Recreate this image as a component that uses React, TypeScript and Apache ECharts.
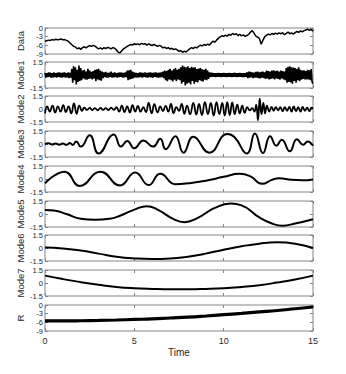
import React, { useEffect, useRef } from "react";
import * as echarts from "echarts";

// ---------- data ----------
const panelNames = ["Data", "Mode1", "Mode2", "Mode3", "Mode4", "Mode5", "Mode6", "Mode7", "R"];
const xTicks = [0, 5, 10, 15];
const wideTicks = [-9, -6, -3, 0];      // Data and R
const modeTicks = [-1.5, 0, 1.5];       // Mode1..Mode7

const dataStep = 0.1;
const dataValues = [
  -4.6, -4.4, -4.2, -4.3, -4.0, -4.2, -3.9, -4.1, -4.0, -3.8,
  -4.1, -4.0, -4.3, -4.6, -5.2, -5.8, -6.3, -6.6, -7.2, -6.9,
  -7.4, -6.8, -6.5, -6.9, -6.4, -6.1, -6.4, -6.0, -6.3, -6.8,
  -7.2, -6.9, -7.3, -6.8, -7.1, -6.7, -6.9, -7.2, -6.8, -7.0,
  -7.6, -8.4, -8.6, -7.9, -7.2, -6.8, -6.4, -6.0, -5.7, -5.9,
  -5.4, -5.7, -5.5, -5.8, -5.3, -5.6, -5.4, -5.9, -5.5, -5.8,
  -6.1, -5.7, -6.0, -6.4, -6.0, -6.3, -6.9, -6.6, -7.1, -6.8,
  -7.3, -7.0, -7.5, -7.2, -7.6, -8.1, -7.8, -8.4, -8.0, -8.3,
  -7.7, -7.2, -6.8, -7.1, -6.6, -6.9, -6.3, -6.0, -6.2, -5.7,
  -6.0, -5.6, -5.9, -5.2, -4.6, -4.9, -4.2, -3.6, -3.1, -2.7,
  -2.9, -2.5, -2.8, -2.2, -2.5, -1.9, -2.3, -2.0, -2.6, -2.2,
  -2.7, -2.4, -2.9, -2.6, -2.2, -1.4, -0.9, -1.8, -2.8, -3.2,
  -3.6, -5.6, -4.2, -3.0, -2.5, -2.1, -2.4, -1.9, -2.2, -1.8,
  -2.1, -1.7, -2.0, -1.6, -2.3, -1.9, -1.4, -2.0, -1.7, -2.1,
  -1.6, -1.2, -1.5, -1.0, -1.3, -0.9, -0.7, -0.4, -0.8, -0.5,
  -1.1,
];

const mode1Step = 0.05;
const mode1Values = [
  0.25, -0.3, 0.2, -0.25, 0.3, -0.2, 0.28, -0.32, 0.22, -0.27, 0.3, -0.25, 0.2, -0.3, 0.27, -0.22, 0.3, -0.28, 0.24, -0.3,
  0.28, -0.25, 0.3, -0.3, 0.22, -0.28, 0.3, -0.35, 0.25, -0.3, 0.7, -0.9, 1.0, -0.6, 0.9, -1.1, 0.6, -0.8, 1.1, -0.7,
  0.8, -0.6, 0.5, -0.4, 0.6, -0.5, 0.4, -0.55, 0.7, -0.45, 0.5, -0.4, 0.35, -0.5, 0.45, -0.4, 0.6, -0.7, 0.65, -0.5,
  0.7, -0.6, 0.5, -0.65, 0.4, -0.35, 0.3, -0.25, 0.35, -0.3, 0.25, -0.3, 0.28, -0.22, 0.4, -0.3, 0.25, -0.28, 0.3, -0.25,
  0.22, -0.3, 0.28, -0.25, 0.3, -0.2, 0.26, -0.3, 0.24, -0.28, 0.3, -0.25, 0.5, -0.6, 0.55, -0.5, 0.6, -0.45, 0.4, -0.35,
  0.3, -0.28, 0.25, -0.3, 0.22, -0.27, 0.3, -0.25, 0.28, -0.3, 0.24, -0.22, 0.3, -0.28, 0.25, -0.3, 0.27, -0.24, 0.3, -0.26,
  0.25, -0.3, 0.28, -0.22, 0.3, -0.27, 0.24, -0.3, 0.26, -0.28, 0.3, -0.25, 0.4, -0.35, 0.5, -0.6, 0.45, -0.7, 0.6, -0.5,
  0.7, -0.6, 0.5, -0.75, 0.65, -0.55, 0.8, -0.7, 0.6, -0.5, 0.7, -0.6, 0.9, -1.0, 1.1, -0.8, 0.95, -1.2, 0.9, -1.0,
  1.0, -0.9, 0.8, -1.1, 0.95, -0.7, 0.85, -1.0, 0.9, -0.8, 0.7, -0.85, 0.75, -0.6, 0.8, -0.7, 0.65, -0.75, 0.6, -0.55,
  0.7, -0.6, 0.5, -0.45, 0.3, -0.25, 0.28, -0.22, 0.25, -0.2, 0.22, -0.25, 0.2, -0.22, 0.25, -0.2, 0.22, -0.24, 0.2, -0.22,
  0.24, -0.2, 0.22, -0.25, 0.2, -0.22, 0.25, -0.2, 0.22, -0.24, 0.2, -0.22, 0.26, -0.2, 0.22, -0.25, 0.2, -0.22, 0.24, -0.2,
  0.22, -0.25, 0.2, -0.24, 0.22, -0.2, 0.3, -0.35, 0.4, -0.3, 0.35, -0.28, 0.3, -0.35, 0.28, -0.3, 0.35, -0.3, 0.4, -0.35,
  0.3, -0.4, 0.35, -0.3, 0.4, -0.35, 0.3, -0.45, 0.5, -0.4, 0.45, -0.5, 0.4, -0.45, 0.5, -0.4, 0.55, -0.5, 0.45, -0.4,
  0.5, -0.45, 0.4, -0.55, 0.5, -0.4, 0.45, -0.5, 0.4, -0.6, 0.8, -0.9, 0.95, -0.8, 1.0, -0.85, 0.9, -1.0, 0.85, -0.7,
  0.8, -0.9, 0.7, -0.6, 0.9, -0.7, 0.6, -0.55, 0.5, -0.45, 0.55, -0.5, 0.45, -0.5, 0.6, -0.5, 0.55, -0.6, 0.7, -0.8,
  -1.0,
];

const mode2Times = [
  0, 0.12, 0.27, 0.42, 0.57, 0.72, 0.87, 1.02, 1.17, 1.32, 1.47, 1.62, 1.77, 1.92, 2.07, 2.2, 2.35, 2.5, 2.65, 2.8,
  2.95, 3.1, 3.25, 3.4, 3.55, 3.7, 3.85, 4.0, 4.15, 4.3, 4.45, 4.6, 4.75, 4.9, 5.05, 5.2, 5.35, 5.5, 5.65, 5.8,
  5.97, 6.12, 6.3, 6.45, 6.6, 6.75, 6.9, 7.05, 7.2, 7.35, 7.5, 7.65, 7.8, 7.95, 8.12, 8.3, 8.47, 8.62, 8.78, 8.95,
  9.12, 9.28, 9.44, 9.6, 9.76, 9.92, 10.06, 10.2, 10.34, 10.48, 10.62, 10.76, 10.9, 11.04, 11.18, 11.32, 11.46, 11.6, 11.72, 11.82,
  11.92, 12.02, 12.12, 12.22, 12.32, 12.42, 12.55, 12.68, 12.8, 12.92, 13.05, 13.17, 13.3, 13.42, 13.55, 13.67, 13.8, 13.92, 14.05, 14.17,
  14.3, 14.42, 14.55, 14.67, 14.8, 14.92, 15,
];
const mode2Values = [
  -0.5, 0.3, -0.3, 0.4, -0.4, 0.3, -0.3, 0.45, -0.35, 0.3, -0.5, 0.65, -0.55, 0.4, -0.2, 0.15, -0.1, 0.12, -0.12, 0.1,
  -0.15, 0.12, -0.1, 0.1, -0.12, 0.15, -0.1, 0.2, -0.3, 0.4, -0.35, 0.3, -0.4, 0.45, -0.3, 0.35, -0.3, 0.2, -0.35, 0.7,
  -0.5, 0.55, -0.4, 0.3, -0.25, 0.35, -0.3, 0.6, -0.5, 0.2, -0.2, 0.6, -0.55, 0.4, -0.6, 0.7, -0.65, 0.6, -0.7, 0.8,
  -0.6, 0.7, -0.75, 0.8, -0.6, 0.7, -0.75, 0.8, -0.7, 0.75, -0.6, 0.5, -0.5, 0.4, -0.45, 0.2, -0.15, 0.1, -0.3, 0.5,
  -1.3, 1.2, -0.6, 0.7, -0.5, 0.4, -0.3, 0.25, -0.2, 0.2, -0.15, 0.2, -0.25, 0.2, -0.2, 0.25, -0.3, 0.3, -0.25, 0.2,
  -0.3, 0.25, -0.2, 0.15, -0.25, 0.15, 0.05,
];

const mode3Times = [
  0, 0.2, 0.4, 0.6, 0.8, 1.0, 1.2, 1.4, 1.55, 1.75, 2.0, 2.5, 3.0, 3.85, 4.25, 4.6, 5.0, 5.5, 6.05, 6.45,
  6.75, 7.3, 7.75, 8.3, 9.2, 10.2, 10.6, 11.3, 11.75, 12.2, 12.6, 12.95, 13.25, 13.7, 14.1, 14.45, 14.7, 15,
];
const mode3Values = [
  0, 0.08, -0.05, 0.05, -0.08, 0.06, -0.1, 0.12, -0.12, 0.3, -0.3, 1.0, -1.1, 1.1, -0.3, 0.35, -0.5, 0.4, -0.3, 0.6,
  -0.6, 0.9, -1.0, 0.85, -1.0, 1.15, 0.8, -1.1, 1.2, -1.05, 0.9, -0.2, 0.5, -0.85, 0.55, -0.1, 0.3, -0.2,
];

const mode4Times = [0, 1.1, 1.95, 3.1, 4.2, 5.05, 5.8, 6.45, 7.3, 8.0, 9.0, 10.0, 10.9, 11.5, 12.15, 12.7, 13.1, 13.8, 14.4, 15];
const mode4Values = [-0.5, 0.85, -0.8, 0.85, -0.75, 0.75, -0.7, 0.6, -0.6, -0.5, -0.2, 0.25, 0.6, 0.3, -0.55, -0.1, 0.1, -0.1, -0.15, -0.05];

const mode5Times = [0, 0.5, 1.2, 2.0, 2.8, 3.6, 4.2, 5.0, 5.7, 6.3, 7.2, 7.8, 8.5, 9.5, 10.4, 11.0, 12.0, 12.7, 13.3, 14.0, 15];
const mode5Values = [0.45, 0.4, 0, -0.55, -0.65, -0.55, -0.2, 0.5, 0.9, 0.5, -0.6, -0.95, -0.5, 0.7, 1.2, 1.0, -0.4, -1.1, -1.35, -1.1, -0.6];

const mode6Times = [0, 1, 2, 3, 4, 5, 6, 7, 8, 9, 10, 11, 12, 13, 14, 15];
const mode6Values = [0.05, -0.05, -0.3, -0.65, -1.0, -1.2, -1.28, -1.22, -1.0, -0.65, -0.2, 0.2, 0.5, 0.65, 0.5, 0.0];

const mode7Times = [0, 1, 2, 3, 4, 5, 6, 7, 8, 9, 10, 11, 12, 13, 14, 15];
const mode7Values = [0.85, 0.45, 0.1, -0.2, -0.45, -0.6, -0.68, -0.72, -0.72, -0.68, -0.6, -0.45, -0.25, 0.05, 0.4, 0.85];

const residualTimes = [0, 1, 2, 3, 4, 5, 6, 7, 8, 9, 10, 11, 12, 13, 14, 15];
const residualValues = [-5.5, -5.5, -5.45, -5.35, -5.2, -5.0, -4.8, -4.5, -4.2, -3.8, -3.35, -2.9, -2.4, -1.9, -1.3, -0.7];

// ---------- helpers ----------
const uniform = (step: number, vals: number[]) => vals.map((v, i) => [+(i * step).toFixed(3), v]);
const paired = (ts: number[], vs: number[]) => ts.map((t, i) => [t, vs[i]]);

const seriesData = [
  uniform(dataStep, dataValues),
  uniform(mode1Step, mode1Values),
  paired(mode2Times, mode2Values),
  paired(mode3Times, mode3Values),
  paired(mode4Times, mode4Values),
  paired(mode5Times, mode5Values),
  paired(mode6Times, mode6Values),
  paired(mode7Times, mode7Values),
  paired(residualTimes, residualValues),
];

const FONT = "'Liberation Sans', Arial, Helvetica, sans-serif";
const TEXT = "#262626";
const FRAME = "#858585";
const tops = [28, 62, 96, 131, 166, 201, 235, 270, 305];
const lineWidths = [1.5, 1.6, 1.8, 2, 2, 2, 2, 2, 3.2];
const smoothFlags = [false, false, true, true, true, true, true, true, true];

export default function App() {
  const ref = useRef<HTMLDivElement>(null);
  useEffect(() => {
    if (!ref.current) return;
    const chart = echarts.init(ref.current, undefined, { renderer: "svg" });
    const n = panelNames.length;
    const grid: any[] = [];
    const xAxis: any[] = [];
    const yAxis: any[] = [];
    const series: any[] = [];
    panelNames.forEach((name, i) => {
      const wide = name === "Data" || name === "R";
      const ticks = wide ? wideTicks : modeTicks;
      const yMin = ticks[0];
      const yMax = ticks[ticks.length - 1];
      const yInt = ticks[1] - ticks[0];
      grid.push({
        left: 45, width: 268, top: tops[i], height: 26,
        show: true, borderColor: FRAME, borderWidth: 1, backgroundColor: "#fff",
      });
      const last = i === n - 1;
      const xBase = {
        type: "value", gridIndex: i, min: xTicks[0], max: xTicks[xTicks.length - 1],
        interval: xTicks[1] - xTicks[0],
        axisLine: { show: false, onZero: false },
        axisTick: { inside: true, length: 3, lineStyle: { color: FRAME } },
        splitLine: { show: false },
      };
      xAxis.push({
        ...xBase, position: "bottom",
        axisLabel: { show: last, fontSize: 9, color: TEXT, fontFamily: FONT, margin: 5 },
        name: last ? "Time" : "", nameLocation: "middle", nameGap: 16,
        nameTextStyle: { fontSize: 10, color: TEXT, fontFamily: FONT },
      });
      xAxis.push({ ...xBase, position: "top", axisLabel: { show: false } });
      const yBase = {
        type: "value", gridIndex: i, min: yMin, max: yMax, interval: yInt,
        axisLine: { show: false, onZero: false },
        axisTick: { inside: true, length: 3, lineStyle: { color: FRAME } },
        splitLine: { show: false },
      };
      yAxis.push({
        ...yBase, position: "left",
        axisLabel: {
          fontSize: 7.5, color: TEXT, fontFamily: FONT, margin: 2, lineHeight: 8,
          showMinLabel: true, showMaxLabel: true, hideOverlap: false,
        },
        name, nameLocation: "middle", nameGap: 19.5, nameMoveOverlap: false,
        nameTextStyle: { fontSize: 9.5, color: TEXT, fontFamily: FONT },
      });
      yAxis.push({ ...yBase, position: "right", axisLabel: { show: false } });
      series.push({
        type: "line", xAxisIndex: 2 * i, yAxisIndex: 2 * i,
        data: seriesData[i], symbol: "none", showSymbol: false,
        smooth: smoothFlags[i] ? 0.5 : false,
        lineStyle: { color: "#000", width: lineWidths[i] },
      });
    });
    chart.setOption({
      animation: false,
      backgroundColor: "#fff",
      grid, xAxis, yAxis, series,
    });
    return () => chart.dispose();
  }, []);
  return (
    <div
      ref={ref}
      style={{ position: "fixed", left: 0, top: 0, width: 346, height: 374, background: "#fff" }}
    />
  );
}
